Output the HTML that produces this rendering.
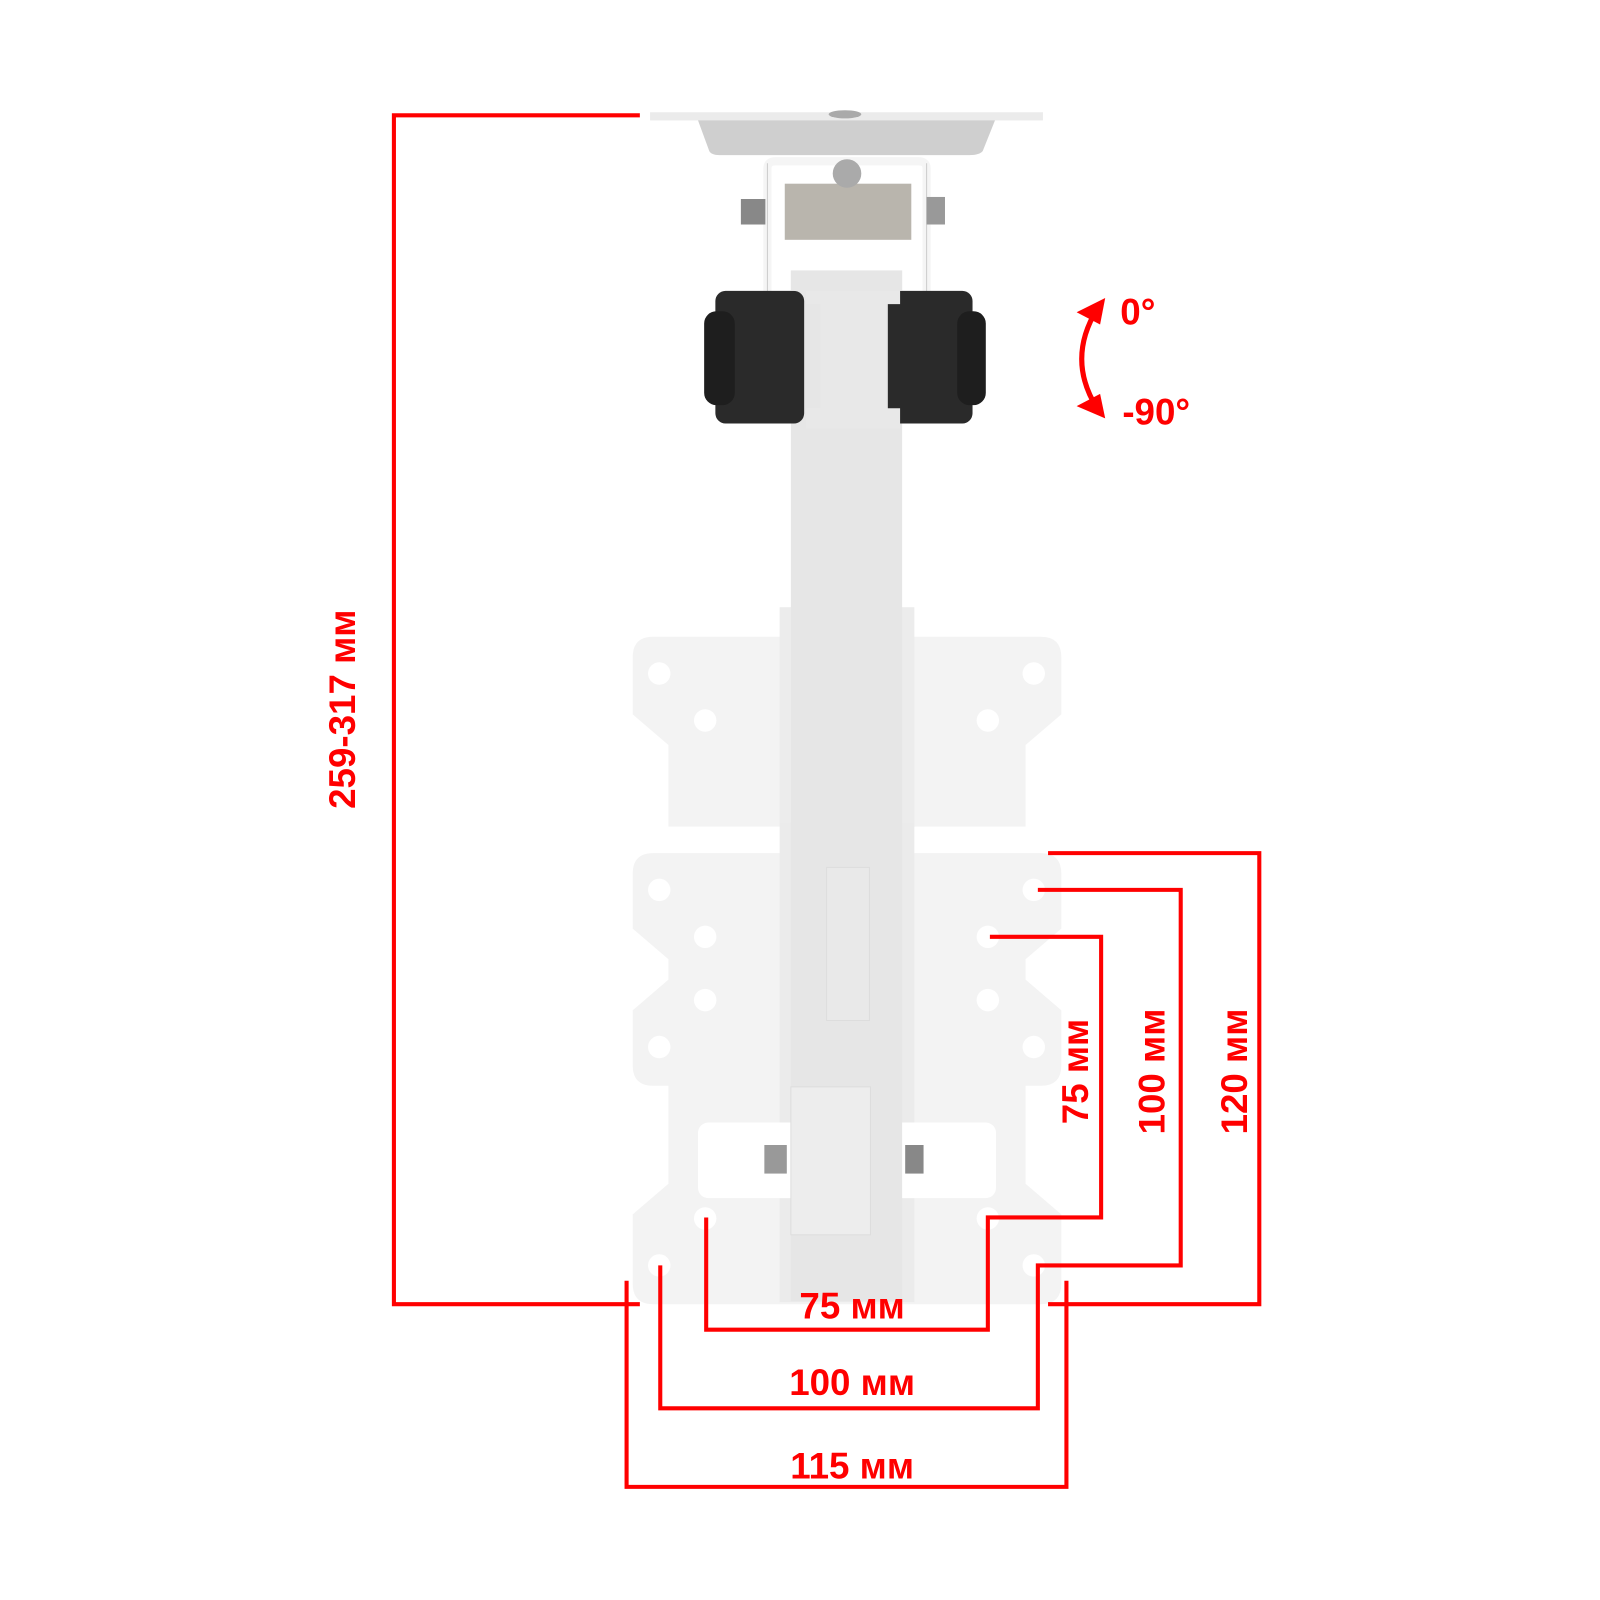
<!DOCTYPE html>
<html><head><meta charset="utf-8"><style>html,body{margin:0;padding:0;background:#fff}svg{display:block}</style></head>
<body>
<svg width="1600" height="1600" viewBox="0 0 1600 1600" xmlns="http://www.w3.org/2000/svg">
<g transform="scale(1.0205)">
<g fill="#f3f3f3">
<path d="M640 624 H1020 Q1040 624 1040 644 V700 L1005 730 V810 H655 V730 L620 700 V644 Q620 624 640 624 Z"/>
<path d="M640 836 H1020 Q1040 836 1040 856 V910 L1005 940 V960 L1040 990 V1044 Q1040 1064 1020 1064 H1005 V1160 L1040 1190 V1258 Q1040 1278 1020 1278 H640 Q620 1278 620 1258 V1190 L655 1160 V1064 H640 Q620 1064 620 1044 V990 L655 960 V940 L620 910 V856 Q620 836 640 836 Z"/>
</g>
<rect x="764" y="595" width="132" height="215" fill="#ececec"/>
<rect x="764" y="806" width="132" height="470" fill="#ebebeb"/>
<rect x="684" y="1100" width="292" height="74" rx="10" fill="#fff"/>
<g fill="#fff">
<circle cx="646" cy="660" r="11"/><circle cx="1013" cy="660" r="11"/><circle cx="691" cy="706" r="11"/><circle cx="968" cy="706" r="11"/>
<circle cx="646" cy="872" r="11"/><circle cx="1013" cy="872" r="11"/><circle cx="691" cy="918" r="11"/><circle cx="968" cy="918" r="11"/>
<circle cx="646" cy="1026" r="11"/><circle cx="1013" cy="1026" r="11"/><circle cx="691" cy="980" r="11"/><circle cx="968" cy="980" r="11"/>
<circle cx="691" cy="1194" r="11"/><circle cx="968" cy="1194" r="11"/><circle cx="646" cy="1240" r="11"/><circle cx="1013" cy="1240" r="11"/>
</g>
<rect x="775" y="265" width="109" height="1010" fill="#e6e6e6"/>
<rect x="775" y="1065" width="78" height="145" fill="#ededed" stroke="#ddd"/>
<rect x="810" y="850" width="42" height="150" fill="#e9e9e9" stroke="#ddd"/>
<rect x="749" y="1122" width="22" height="28" fill="#999"/><rect x="887" y="1122" width="18" height="28" fill="#888"/>
<rect x="637" y="110" width="385" height="8" fill="#ebebeb"/>
<path d="M684 118 H975 L963 148 Q960 152 950 152 H705 Q697 152 695 148 Z" fill="#cfcfcf"/>
<ellipse cx="828" cy="112" rx="16" ry="4" fill="#aaa"/>
<path d="M752 298 V165 Q752 158 760 158 H900 Q908 158 908 165 V408" fill="none" stroke="#f5f5f5" stroke-width="8"/>
<path d="M752 160 V408 M908 160 V408" stroke="#ccc" stroke-width="1"/>
<rect x="769" y="180" width="124" height="55" fill="#b9b5ad"/>
<circle cx="830" cy="170" r="14" fill="#aaa"/>
<rect x="726" y="195" width="24" height="25" fill="#888"/><rect x="908" y="193" width="18" height="27" fill="#999"/>
<rect x="701" y="285" width="87" height="130" rx="10" fill="#2a2a2a"/>
<rect x="690" y="305" width="30" height="92" rx="12" fill="#1e1e1e"/>
<rect x="870" y="285" width="83" height="130" rx="10" fill="#2a2a2a"/>
<rect x="938" y="305" width="28" height="92" rx="12" fill="#1e1e1e"/>
<path d="M790 270 H882 V298 H868 V400 H882 V420 H790 V400 H804 V298 H790 Z" fill="#e8e8e8"/>
<rect x="775" y="265" width="109" height="20" fill="#e6e6e6"/>
<g fill="none" stroke="#f00" stroke-width="4">
<path d="M627 113 H386 V1278 H627"/>
<path d="M614 1255 V1457 H1045 V1255"/>
<path d="M647 1240 V1380 H1017 V1240 H1157 V872 H1017"/>
<path d="M692 1193 V1303 H968 V1193 H1079 V918 H970"/>
<path d="M1027 836 H1234 V1278 H1027"/>
<path d="M1075 303 Q1045 352 1075 400" stroke-width="5"/>
</g>
<path d="M1083 292 L1055 306 L1078 318 Z" fill="#f00"/>
<path d="M1083 410 L1055 398 L1078 386 Z" fill="#f00"/>
<g fill="#f00" font-family="Liberation Sans, sans-serif" font-weight="bold" font-size="36" text-anchor="middle">
<text x="835" y="1292">75 мм</text>
<text x="835" y="1367">100 мм</text>
<text x="835" y="1449">115 мм</text>
<text x="1115" y="318">0°</text>
<text x="1133" y="416">-90°</text>
<text transform="translate(348,695) rotate(-90)">259-317 мм</text>
<text transform="translate(1066,1050) rotate(-90)">75 мм</text>
<text transform="translate(1141,1050) rotate(-90)">100 мм</text>
<text transform="translate(1222,1050) rotate(-90)">120 мм</text>
</g>
</g>
</svg>
</body></html>
